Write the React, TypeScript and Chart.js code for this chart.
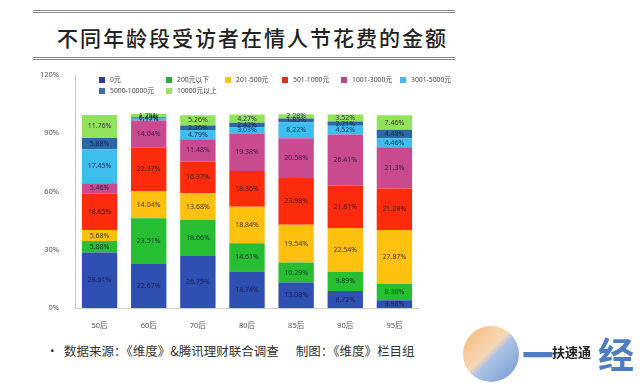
import React, { useEffect, useRef } from "react";
import { Chart, registerables } from "chart.js";

Chart.register(...registerables);

const categories = ["50后", "60后", "70后", "80后", "85后", "90后", "95后"];
const seriesNames = ["0元", "200元以下", "201-500元", "501-1000元", "1001-3000元", "3001-5000元", "5000-10000元", "10000元以上"];
const s0 = [28.61, 22.67, 26.75, 18.74, 13.08, 8.72, 3.98];
const s200 = [5.88, 23.51, 18.66, 14.61, 10.29, 9.89, 8.38];
const s500 = [5.68, 14.04, 13.68, 18.84, 19.54, 22.54, 27.87];
const s1000 = [18.65, 22.37, 16.37, 18.36, 23.98, 21.81, 21.28];
const s3000 = [5.46, 14.04, 11.48, 19.38, 20.58, 26.41, 21.3];
const s5000 = [17.45, 1.17, 4.79, 3.03, 8.22, 4.52, 4.46];
const s10000 = [5.88, 0.45, 2.26, 2.42, 1.85, 2.21, 4.48];
const sAbove = [11.76, 1.75, 5.26, 4.27, 2.28, 3.52, 7.46];
const yTicks = [0, 30, 60, 90, 120];

const seriesValues = [s0, s200, s500, s1000, s3000, s5000, s10000, sAbove];
const colors = ["#2E50B2", "#28BE32", "#FFC10F", "#FF2B0C", "#CA4A8F", "#3EBDEF", "#2C69A4", "#93E25C"];
const legendSwatch = ["#2A3C96", "#2CB03A", "#F5C21A", "#D8321C", "#B84A86", "#45B8E8", "#3A6EA8", "#9BE06A"];

const FONT = '"Noto Sans", "Noto Sans CJK SC", sans-serif';

const valueLabels = {
  id: "valueLabels",
  afterDatasetsDraw(chart: any) {
    const ctx = chart.ctx;
    ctx.save();
    ctx.font = `7px ${FONT}`;
    ctx.textAlign = "center";
    ctx.textBaseline = "middle";
    ctx.fillStyle = "rgba(25,20,55,0.85)";
    chart.data.datasets.forEach((ds: any, i: number) => {
      const meta = chart.getDatasetMeta(i);
      meta.data.forEach((bar: any, j: number) => {
        const p = bar.getProps(["x", "y", "base"], true);
        ctx.fillText(ds.data[j] + "%", p.x, (p.y + p.base) / 2);
      });
    });
    ctx.restore();
  },
};

const gridLegend = {
  id: "gridLegend",
  afterDraw(chart: any) {
    const ctx = chart.ctx;
    const cols = [99, 166, 225, 282, 341, 400];
    const rows = [20, 31];
    ctx.save();
    ctx.font = `6.8px ${FONT}`;
    ctx.textBaseline = "middle";
    ctx.textAlign = "left";
    seriesNames.forEach((name, i) => {
      const c = i < 6 ? i : i - 6;
      const r = i < 6 ? 0 : 1;
      const x = cols[c];
      const y = rows[r];
      ctx.fillStyle = legendSwatch[i];
      ctx.fillRect(x, y - 3, 6, 6);
      ctx.fillStyle = "#444";
      ctx.fillText(name, x + 11, y);
    });
    ctx.restore();
  },
};

function ChartBox() {
  const ref = useRef<HTMLCanvasElement | null>(null);
  useEffect(() => {
    if (!ref.current) return;
    const chart = new Chart(ref.current, {
      type: "bar",
      data: {
        labels: categories,
        datasets: seriesValues.map((vals, i) => ({
          label: seriesNames[i],
          data: vals,
          backgroundColor: colors[i],
          borderWidth: 0,
          barPercentage: 0.72,
          categoryPercentage: 1,
        })),
      },
      options: {
        responsive: false,
        animation: false,
        layout: { padding: { left: 0, right: 221, top: 15, bottom: 0 } },
        plugins: { legend: { display: false }, tooltip: { enabled: false } },
        scales: {
          x: {
            stacked: true,
            grid: { display: false },
            border: { display: true, color: "#cfcfcf" },
            ticks: { color: "#555", font: { size: 7.5, family: FONT }, padding: 5 },
            afterFit: (s: any) => { s.height = 22; },
          },
          y: {
            stacked: true,
            min: 0,
            max: 120,
            grid: { display: false },
            border: { display: true, color: "#c4c4c4" },
            afterBuildTicks: (s: any) => { s.ticks = yTicks.map((v) => ({ value: v })); },
            ticks: {
              color: "#555",
              font: { size: 7.5, family: FONT },
              padding: 8,
              callback: (v: any) => v + "%",
            },
            afterFit: (s: any) => { s.width = 75; },
          },
        },
      },
      plugins: [valueLabels, gridLegend],
    });
    return () => chart.destroy();
  }, []);
  return (
    <canvas
      ref={ref}
      width={640}
      height={270}
      style={{ position: "absolute", left: 0, top: 60, width: 640, height: 270 }}
    />
  );
}

export default function App() {
  return (
    <div style={{ position: "fixed", left: 0, top: 0, width: 640, height: 387, background: "#fff", overflow: "hidden", fontFamily: '"Noto Sans CJK SC", sans-serif' }}>
      <div style={{ position: "absolute", left: 33, top: 10, width: 422, borderTop: "3px double #8a8a8a" }} />
      <div style={{ position: "absolute", left: 57, top: 24, fontSize: 21, letterSpacing: 2, color: "#222", whiteSpace: "nowrap", lineHeight: "26px", fontWeight: 500 }}>
        不同年龄段受访者在情人节花费的金额
      </div>
      <div style={{ position: "absolute", left: 33, top: 57, width: 422, borderTop: "3px double #8a8a8a" }} />
      <ChartBox />
      <div style={{ position: "absolute", left: 46, top: 342, fontSize: 12.5, color: "#333", whiteSpace: "pre", lineHeight: "18px" }}>
        {"•  数据来源：《维度》&腾讯理财联合调查      制图：《维度》栏目组"}
      </div>
      <div style={{ position: "absolute", left: 463, top: 326, width: 56, height: 56, borderRadius: "50%", background: "linear-gradient(135deg, #f2a65a 0%, #f7d2a8 45%, #9cb7e0 55%, #5b86c9 100%)", opacity: 0.85 }} />
      <div style={{ position: "absolute", left: 522, top: 328, fontSize: 40, color: "#4f7cc2", fontWeight: 700, lineHeight: "50px" }}>一</div>
      <div style={{ position: "absolute", left: 598, top: 330, fontSize: 36, color: "#4f7cc2", fontWeight: 700, lineHeight: "46px" }}>经</div>
      <div style={{ position: "absolute", left: 552, top: 344, fontSize: 13, color: "#222", fontWeight: 700, lineHeight: "16px", background: "rgba(255,255,255,0.7)" }}>扶速通</div>
    </div>
  );
}
